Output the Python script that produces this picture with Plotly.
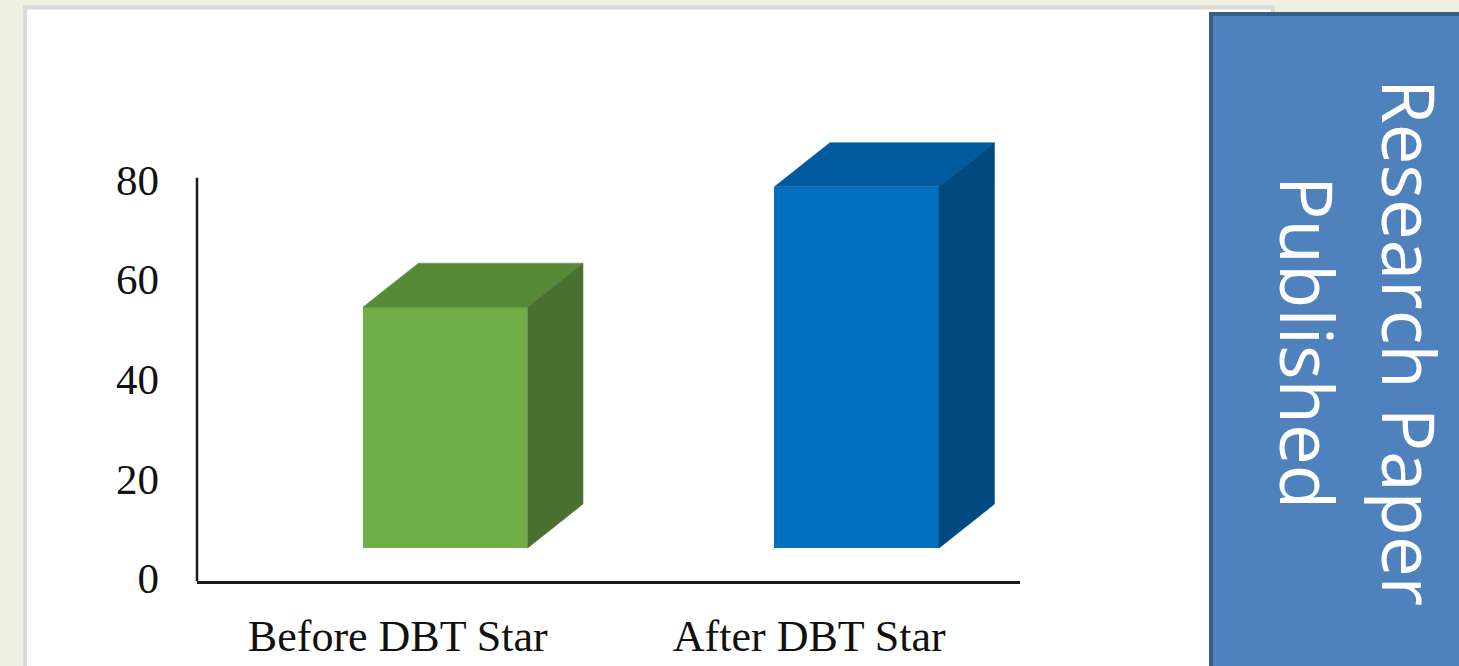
import plotly.graph_objects as go

# ---- data ----
categories = ["Before DBT Star", "After DBT Star"]
values = [48.4, 72.6]
y_ticks = [0, 20, 40, 60, 80]
side_text_1 = "Research Paper"
side_text_2 = "Published"

# ---- styling / geometry (in axis units) ----
front_colors = ["#70AD47", "#0070C0"]
top_colors = ["#578A37", "#005A9E"]
side_colors = ["#4A7030", "#004A80"]
floor = 6.6        # 3D floor offset in value units
shift = 0.103      # front face centre offset from category position
bar_w = 0.40       # front face width
depth_x = 0.135    # depth projection in x units
depth_y = 8.85     # depth projection in value units

positions = list(range(len(categories)))

fig = go.Figure()

# front faces
fig.add_trace(go.Bar(
    x=[p + shift for p in positions], y=values, base=[floor] * len(values),
    width=bar_w, marker=dict(color=front_colors, line=dict(width=0)),
    hoverinfo="skip", showlegend=False))

# top and side faces
for p, v, tc, sc in zip(positions, values, top_colors, side_colors):
    L = p + shift - bar_w / 2
    R = p + shift + bar_w / 2
    B = floor
    T = floor + v
    fig.add_trace(go.Scatter(
        x=[L, R, R + depth_x, L + depth_x, L],
        y=[T, T, T + depth_y, T + depth_y, T],
        mode="lines", fill="toself", fillcolor=tc,
        line=dict(width=0.5, color=tc), hoverinfo="skip", showlegend=False))
    fig.add_trace(go.Scatter(
        x=[R, R, R + depth_x, R + depth_x, R],
        y=[B, T, T + depth_y, B + depth_y, B],
        mode="lines", fill="toself", fillcolor=sc,
        line=dict(width=0.5, color=sc), hoverinfo="skip", showlegend=False))

W, H = 1459, 666
ml, mr, mt, mb = 197, 439, 133, 85
pw = W - ml - mr
ph = H - mt - mb


def px_x(px):
    return (px - ml) / pw


def px_y(py):
    return (H - mb - py) / ph


shapes = [
    # white panel
    dict(type="rect", xref="paper", yref="paper", layer="below",
         x0=px_x(25), x1=px_x(1273), y0=px_y(7.5), y1=px_y(700),
         fillcolor="white", line=dict(color="#D9D9D9", width=4)),
    # y axis line
    dict(type="line", xref="paper", yref="y", x0=0, x1=0, y0=0, y1=81,
         line=dict(color="#1A1A1A", width=2.5)),
    # blue box
    dict(type="rect", xref="paper", yref="paper", layer="above",
         x0=px_x(1211), x1=px_x(1500), y0=px_y(14), y1=px_y(720),
         fillcolor="#4F81BD", line=dict(color="#385D8A", width=4)),
]

annotations = [
    dict(text=side_text_1, xref="paper", yref="paper", x=px_x(1410), y=px_y(342),
         textangle=90, showarrow=False, xanchor="center", yanchor="middle",
         font=dict(family="Open Sans", size=72.5, color="white")),
    dict(text=side_text_2, xref="paper", yref="paper", x=px_x(1308), y=px_y(342),
         textangle=90, showarrow=False, xanchor="center", yanchor="middle",
         font=dict(family="Open Sans", size=72.5, color="white")),
]

fig.update_layout(
    width=W, height=H,
    margin=dict(l=ml, r=mr, t=mt, b=mb, pad=0, autoexpand=False),
    paper_bgcolor="#EDF0E1", plot_bgcolor="rgba(0,0,0,0)",
    shapes=shapes, annotations=annotations, bargap=0,
    xaxis=dict(range=[-0.5, 1.5], tickvals=positions, ticktext=categories,
               showline=True, linecolor="#1A1A1A", linewidth=2.5,
               showgrid=False, zeroline=False, ticks="", automargin=False,
               ticklabelstandoff=14, ticklabelshift=-5,
               tickfont=dict(family="Liberation Serif", size=44, color="#111")),
    yaxis=dict(range=[0, 90], tickvals=y_ticks, showline=False,
               showgrid=False, zeroline=False, ticks="", automargin=False,
               ticklabelstandoff=37, ticklabelshift=-3,
               tickfont=dict(family="Liberation Serif", size=43, color="#111")),
)

fig.write_html("out.html", config={"displayModeBar": False},
               post_script="document.body.style.margin='0';document.body.style.overflow='hidden';")
